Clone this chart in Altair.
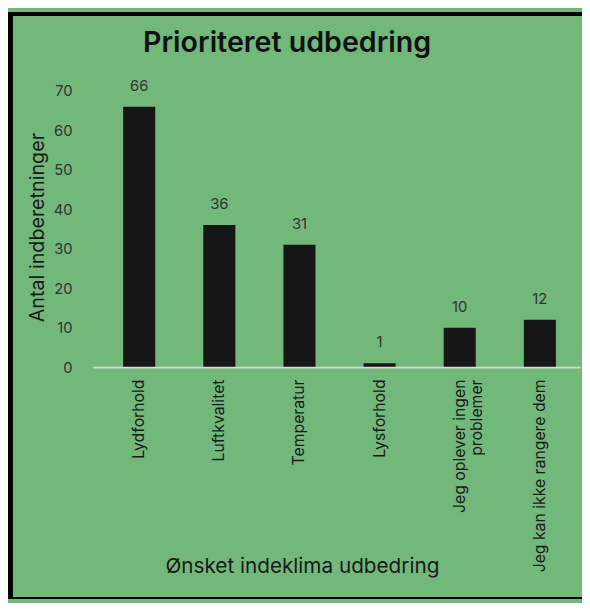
import altair as alt
import pandas as pd

categories = ["Lydforhold", "Luftkvalitet", "Temperatur", "Lysforhold",
              "Jeg oplever ingen problemer", "Jeg kan ikke rangere dem"]
values = [66, 36, 31, 1, 10, 12]
y_ticks = [0, 10, 20, 30, 40, 50, 60, 70]

df = pd.DataFrame({"kategori": categories, "antal": values})

FONT = "Inter"
GREEN = "#72B87B"
DARK = "#1a1a1a"

x_enc = alt.X(
    "kategori:N", sort=categories,
    scale=alt.Scale(paddingInner=0.6, paddingOuter=0.34, align=0.557),
    axis=alt.Axis(
        title="Ønsket indeklima udbedring",
        labelAngle=270, labelAlign="right", labelBaseline="middle",
        labelPadding=12, ticks=False, domainColor="#D9D9D9", domainWidth=2,
        labelFontSize=16, labelColor=DARK, labelFont=FONT, labelLimit=0,
        labelOverlap=False,
        labelExpr="datum.label == 'Jeg oplever ingen problemer' ? ['Jeg oplever ingen', 'problemer'] : datum.label",
        titleFont=FONT, titleFontSize=21, titleFontWeight="normal", titleColor=DARK,
        titleX=212, titleY=202, titleAlign="center", titleBaseline="middle",
        zindex=1,
    ),
)

y_enc = alt.Y(
    "antal:Q", scale=alt.Scale(domain=[0, 70]),
    axis=alt.Axis(
        values=y_ticks, tickCount=8, title="Antal indberetninger", grid=False,
        domain=False, ticks=False, labelPadding=21, labelFontSize=15,
        labelColor="#333333", labelFont=FONT, labelOverlap=False,
        titleFont=FONT, titleFontSize=20, titleFontWeight="normal",
        titleColor=DARK, titleX=-56, titleY=138, titleAngle=270,
        titleAlign="center", titleBaseline="middle", zindex=1,
    ),
)

base = alt.Chart(df)
bars = base.mark_bar(color="#161616").encode(x=x_enc, y=y_enc)
labels = base.mark_text(dy=-13, baseline="bottom", fontSize=15, font=FONT,
                        color="#333333").encode(x=x_enc, y=y_enc, text="antal:Q")

one = alt.Data(values=[{"a": 1}])
left_border = alt.Chart(one).mark_rect(color="black").encode(
    x=alt.value(-86), x2=alt.value(-81), y=alt.value(-80), y2=alt.value(515))
top_border = alt.Chart(one).mark_rect(color="black").encode(
    x=alt.value(-86), x2=alt.value(496), y=alt.value(-80), y2=alt.value(-76))
bottom_border = alt.Chart(one).mark_rect(color="black").encode(
    x=alt.value(-86), x2=alt.value(496), y=alt.value(513), y2=alt.value(515))

chart = alt.layer(bars, labels, left_border, top_border, bottom_border).properties(
    width=494, height=280,
    padding={"left": 86, "top": 80, "right": 2, "bottom": 235},
    autosize="none",
    background=GREEN,
    title=alt.Title("Prioriteret udbedring", fontSize=29, fontWeight=600,
                    font=FONT, color="#111111", anchor="middle", frame="group",
                    dx=-50, offset=0, dy=46, zindex=1),
).configure_view(strokeWidth=0)

chart.save("out.html", embed_options={"renderer": "svg", "actions": False})
